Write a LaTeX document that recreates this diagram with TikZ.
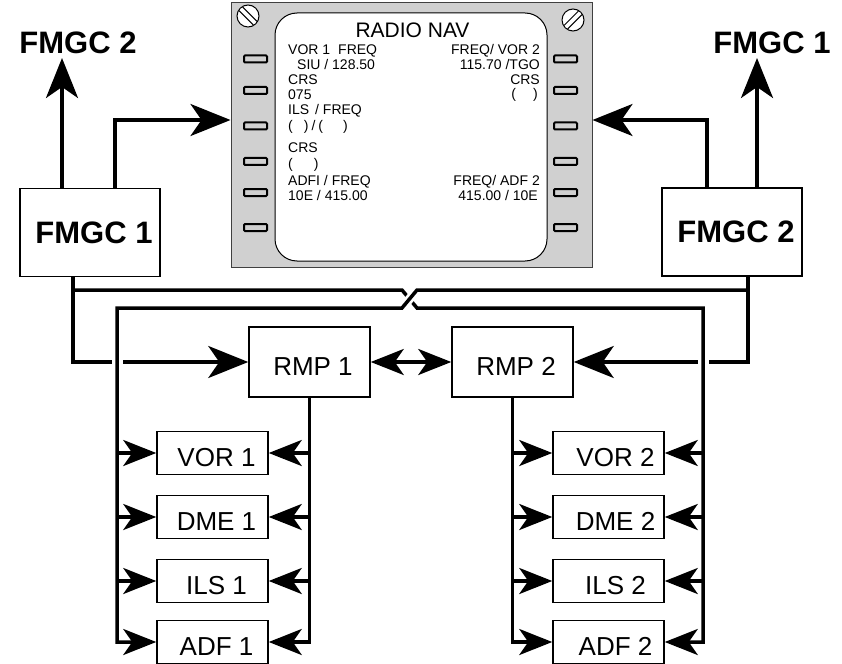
\documentclass[tikz,border=0pt]{standalone}
\usepackage{fontspec}
\setmainfont{Liberation Sans}
\usetikzlibrary{arrows.meta,calc}
\definecolor{panel}{RGB}{208,208,208}
\begin{document}
\begin{tikzpicture}[x=1pt,y=-1pt,
  box/.style={draw, line width=1.5pt, inner sep=0pt, fill=white},
  fbox/.style={box, minimum width=140pt, minimum height=88pt, font=\fontsize{31}{31}\bfseries\selectfont},
  flabel/.style={inner sep=0pt, font=\fontsize{31}{31}\bfseries\selectfont},
  rbox/.style={box, minimum width=121pt, minimum height=70pt, font=\fontsize{26}{26}\selectfont, text height=26pt, text depth=0pt},
  radbox/.style={box, minimum width=111pt, minimum height=43pt, font=\fontsize{26}{26}\selectfont, text height=26pt, text depth=0pt},
  wire/.style={line width=3.5pt},
  big/.style={wire, -{Stealth[length=40pt, width=32pt, inset=11pt]}},
  small/.style={wire, -{Stealth[length=33pt, width=26pt, inset=9pt]}},
  dbl/.style={wire, {Stealth[length=33pt, width=26pt, inset=9pt]}-{Stealth[length=33pt, width=26pt, inset=9pt]}},
  gap/.style={draw=white, line width=11pt},
  btn/.style={draw, line width=2pt, minimum width=23pt, minimum height=7pt, inner sep=0pt, rounded corners=1pt},
  screw/.style={draw, circle, fill=white, line width=1pt, minimum size=22pt, inner sep=0pt},
  st/.style={inner sep=0pt, font=\fontsize{14}{15}\selectfont},
  stl/.style={st, anchor=base west},
  str/.style={st, anchor=base east}
]
\useasboundingbox (0,0) rectangle (842,663);
\clip (0,0) rectangle (842,663);

% ---------- MCDU ----------
\node[draw=black!75, line width=1pt, fill=panel, minimum width=361pt, minimum height=264pt, inner sep=0pt] (mcdu) at (411.5,135) {};
\node[draw, line width=1pt, fill=white, rounded corners=22pt, minimum width=272pt, minimum height=248pt, inner sep=0pt] (screen) at (411,137) {};
\foreach \y [count=\i] in {59,90.5,126,161.5,192.5,227.5} {
  \node[btn] (bl\i) at (255.5,\y) {};
  \node[btn] (br\i) at (565.5,\y) {};
}
\node[screw] (s1) at (248,16) {};
\begin{scope}
  \clip (s1.center) circle (10.5pt);
  \draw[line width=1pt] (s1.center) ++(-6,-9.55) -- ++(15.56,15.56);
  \draw[line width=1pt] (s1.center) ++(-9.55,-6) -- ++(15.56,15.56);
\end{scope}
\node[screw] (s2) at (573,20) {};
\begin{scope}
  \clip (s2.center) circle (10.5pt);
  \draw[line width=1pt] (s2.center) ++(-6,9.55) -- ++(15.56,-15.56);
  \draw[line width=1pt] (s2.center) ++(-9.55,6) -- ++(15.56,-15.56);
\end{scope}

\node[inner sep=0pt, anchor=base, font=\fontsize{21}{21}\selectfont] (title) at (412.5,38) {RADIO NAV};
\node[stl] (t1) at (288,55) {VOR 1\hspace{8pt}FREQ};
\node[stl] (t2) at (297,70) {SIU / 128.50};
\node[stl] (t3) at (288,85) {CRS};
\node[stl] (t4) at (288,100) {075};
\node[stl] (t5) at (288,115) {ILS\hspace{6pt}/ FREQ};
\node[stl] (t6) at (288,130.5) {(\hspace{11pt})\hspace{3pt}/\hspace{3pt}(\hspace{20pt})};
\node[stl] (t7) at (288,153) {CRS};
\node[stl] (t8) at (288,168) {(\hspace{21pt})};
\node[stl] (t9) at (288,185) {ADFI / FREQ};
\node[stl] (t10) at (288,200) {10E / 415.00};
\node[str] (u1) at (540,55) {FREQ/ VOR 2};
\node[str] (u2) at (540,70) {115.70 /TGO};
\node[str] (u3) at (540,85) {CRS};
\node[str] (u4) at (538,99) {(\hspace{17pt})};
\node[str] (u5) at (540,185) {FREQ/ ADF 2};
\node[str] (u6) at (538,200) {415.00 / 10E};

% ---------- FMGC ----------
\node[fbox] (f1) at (90,232.5) {\hspace*{8pt}FMGC 1};
\node[fbox] (f2) at (732,232) {\hspace*{8pt}FMGC 2};
\node[flabel] (lf2) at (78,43) {FMGC 2};
\node[flabel] (lf1) at (772,43) {FMGC 1};

% ---------- RMP ----------
\node[rbox] (r1) at (309.5,362) {\hspace*{7pt}RMP 1};
\node[rbox] (r2) at (512.5,362) {\hspace*{7pt}RMP 2};

% ---------- radios ----------
\node[radbox] (vor1) at (212.5,453) {\hspace*{8pt}VOR 1};
\node[radbox] (dme1) at (212.5,517) {\hspace*{8pt}DME 1};
\node[radbox] (ils1) at (212.5,581) {\hspace*{8pt}ILS 1};
\node[radbox] (adf1) at (212.5,642) {\hspace*{8pt}ADF 1};
\node[radbox] (vor2) at (608.5,453) {\hspace*{14pt}VOR 2};
\node[radbox] (dme2) at (608.5,517) {\hspace*{14pt}DME 2};
\node[radbox] (ils2) at (608.5,581) {\hspace*{14pt}ILS 2};
\node[radbox] (adf2) at (608.5,642) {\hspace*{14pt}ADF 2};

% ---------- coordinates ----------
\coordinate (a1) at (62,58);
\coordinate (c1) at (115,120);
\coordinate (a2) at (757,58);
\coordinate (c2) at (707,120);
\coordinate (p1) at (73,362);
\coordinate (j1) at (73,290);
\coordinate (x1) at (402,290);
\coordinate (x2) at (417,308);
\coordinate (k2) at (703,308);
\coordinate (p2) at (748,362);
\coordinate (j2) at (748,290);
\coordinate (x3) at (417,290);
\coordinate (x4) at (402,308);
\coordinate (k1) at (117,308);

% ---------- connectors ----------
\draw[big] (f1.north -| a1) -- (a1);
\draw[big] (f1.north -| c1) -- (c1) -- (mcdu.west |- c1);
\draw[big] (f2.north -| a2) -- (a2);
\draw[big] (f2.north -| c2) -- (c2) -- (mcdu.east |- c2);
\draw[big] (f1.south -| p1) -- (p1) -- (r1.west);
\draw[big] (f2.south -| p2) -- (p2) -- (r2.east);
\draw[dbl] (r1.east) -- (r2.west);

\draw[gap] (k1 |- p1) ++(0,-5) -- ++(0,10);
\draw[gap] (k2 |- p2) ++(0,-5) -- ++(0,10);

\draw[small] (j1) -- (x1) -- (x2) -- (k2) -- (k2 |- adf2) -- (adf2.east);
\draw[draw=white, line width=9pt] ($(x3)!0.3!(x4)$) -- ($(x3)!0.7!(x4)$);
\draw[small] (j2) -- (x3) -- (x4) -- (k1) -- (k1 |- adf1) -- (adf1.west);

\draw[small] (r1.south) -- (r1.south |- adf1) -- (adf1.east);
\draw[small] (r2.south) -- (r2.south |- adf2) -- (adf2.west);

\foreach \n in {vor1,dme1,ils1} {
  \draw[small] (k1 |- \n) -- (\n.west);
  \draw[small] (r1.south |- \n) -- (\n.east);
}
\foreach \n in {vor2,dme2,ils2} {
  \draw[small] (r2.south |- \n) -- (\n.west);
  \draw[small] (k2 |- \n) -- (\n.east);
}
\end{tikzpicture}
\end{document}
